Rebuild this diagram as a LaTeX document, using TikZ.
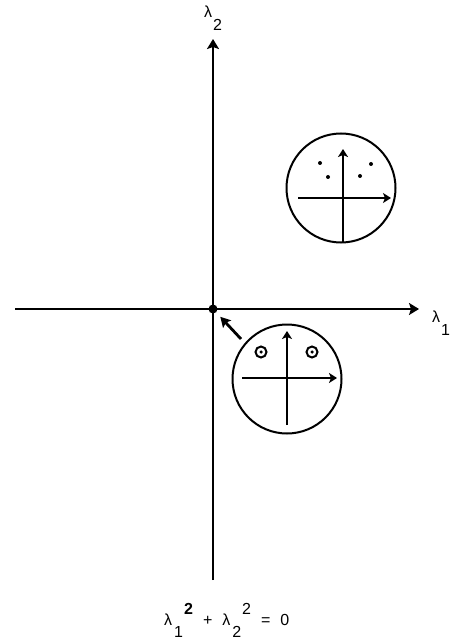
\documentclass[tikz,border=0pt]{standalone}
\usepackage{fontspec}
\setmainfont{Liberation Sans}
\usepackage{xcolor}
\definecolor{ink}{HTML}{000000}
\usetikzlibrary{arrows.meta,positioning,calc}

\begin{document}
\begin{tikzpicture}[x=1pt,y=-1pt,every node/.style={font=\fontsize{16}{19}\selectfont,text=ink}]
\tikzstyle{axis}=[draw=ink,line width=2.4pt,-{Stealth[length=10pt,width=12pt,inset=2pt]}]
\tikzstyle{inner}=[draw=ink,line width=2.4pt,-{Stealth[length=8pt,width=10pt,inset=2pt]}]
\tikzstyle{disc}=[circle,draw=ink,line width=2pt,minimum size=109pt,inner sep=0pt]
\tikzstyle{root}=[circle,draw=ink,line width=2pt,minimum size=11pt,inner sep=0pt]
\tikzstyle{pt}=[circle,fill=ink,minimum size=4pt,inner sep=0pt]
\tikzstyle{pointer}=[draw=ink,line width=2.8pt,-{Stealth[length=10pt,width=11pt,inset=2pt]},shorten >=6pt]
\useasboundingbox (0,0) rectangle (454,644);
% main axes
\node[pt,minimum size=9pt] (o) at (213,309) {};
\coordinate (xl) at (15,309);
\coordinate (xr) at (419,309);
\coordinate (yb) at (213,580);
\coordinate (yt) at (213,39);
\draw[axis] (xl) -- (xr);
\draw[axis] (yb) -- (yt);
\node[anchor=base west,inner sep=0pt] (l1) at (432,322) {λ\hspace{1pt}\raisebox{-13pt}{1}};
\node[anchor=base west,inner sep=0pt] (l2) at (204,18) {λ\hspace{1pt}\raisebox{-13pt}{2}};
% upper disc
\node[disc] (upc) at (341,188) {};
\draw[inner] ($(upc)+(2,54)$) -- ($(upc)+(2,-39)$);
\draw[inner] ($(upc)+(-43,10)$) -- ($(upc)+(50,10)$);
\node[pt] (u1) at ($(upc)+(-21,-25)$) {};
\node[pt] (u2) at ($(upc)+(-13,-11)$) {};
\node[pt] (u3) at ($(upc)+(30,-24)$) {};
\node[pt] (u4) at ($(upc)+(19,-12)$) {};
% lower disc
\node[disc] (lowc) at (287,379) {};
\draw[inner] ($(lowc)+(0,46)$) -- ($(lowc)+(0,-48)$);
\draw[inner] ($(lowc)+(-45,-1)$) -- ($(lowc)+(50,-1)$);
\node[root] (r1) at ($(lowc)+(-26,-27)$) {};
\node[root] (r2) at ($(lowc)+(25,-27)$) {};
\node[pt,minimum size=3.5pt] at (r1) {};
\node[pt,minimum size=3.5pt] at (r2) {};
\coordinate (ptr) at (241,339);
\draw[pointer] (ptr) -- (o);
% equation
\node[anchor=base west,inner sep=0pt] (eq) at (164,625)
  {λ\hspace{2pt}\raisebox{-12pt}{1}\hspace{1pt}\raisebox{11pt}{\bfseries 2}\hspace{10pt}+\hspace{10pt}λ\hspace{2pt}\raisebox{-12pt}{2}\hspace{1pt}\raisebox{11pt}{2}\hspace{10pt}=\hspace{10pt}0};
\end{tikzpicture}
\end{document}
